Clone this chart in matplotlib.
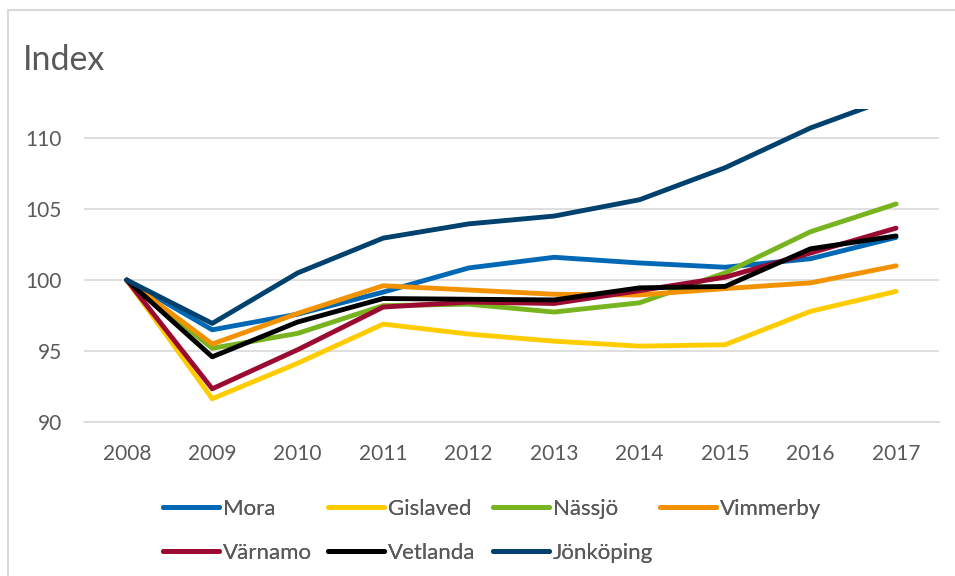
import matplotlib.pyplot as plt
from matplotlib.patches import Rectangle

plt.rcParams['font.family'] = ['Lato', 'DejaVu Sans']

years = ['2008', '2009', '2010', '2011', '2012', '2013', '2014', '2015', '2016', '2017']

mora = [100, 96.5, 97.6, 99.15, 100.85, 101.6, 101.2, 100.9, 101.5, 103.0]
gislaved = [100, 91.65, 94.15, 96.9, 96.2, 95.7, 95.35, 95.45, 97.8, 99.2]
nassjo = [100, 95.2, 96.25, 98.2, 98.3, 97.75, 98.4, 100.5, 103.4, 105.35]
vimmerby = [100, 95.5, 97.65, 99.6, 99.3, 99.0, 98.95, 99.4, 99.8, 101.0]
varnamo = [100, 92.35, 95.1, 98.1, 98.45, 98.35, 99.25, 100.2, 101.9, 103.65]
vetlanda = [100, 94.6, 97.05, 98.7, 98.65, 98.6, 99.45, 99.55, 102.2, 103.1]
jonkoping = [100, 96.95, 100.5, 102.95, 103.95, 104.5, 105.65, 107.9, 110.7, 112.9]

names = ['Mora', 'Gislaved', 'Nässjö', 'Vimmerby', 'Värnamo', 'Vetlanda', 'Jönköping']
series = [mora, gislaved, nassjo, vimmerby, varnamo, vetlanda, jonkoping]
colors = ['#0068B4', '#FFCC00', '#78B41F', '#F39200', '#9B0A31', '#000000', '#00416E']

yticks = [90, 95, 100, 105, 110]
text_col = '#595959'
grid_col = '#D9D9D9'

fig = plt.figure(figsize=(9.55, 5.76), dpi=100)
ax = fig.add_axes([0.088, 0.267, 0.895, 0.543])

x = list(range(len(years)))
handles = []
for name, vals, col in zip(names, series, colors):
    h, = ax.plot(x, vals, color=col, linewidth=3.5, label=name,
                 solid_capstyle='round', solid_joinstyle='round')
    handles.append(h)

ax.set_xlim(-0.5, len(years) - 0.5)
ax.set_ylim(90, 112)
ax.set_xticks(x)
ax.set_xticklabels(years)
ax.set_yticks(yticks)
ax.grid(axis='y', color=grid_col, linewidth=1.2)
ax.set_axisbelow(True)
for s in ['top', 'right', 'left']:
    ax.spines[s].set_visible(False)
ax.spines['bottom'].set_color(grid_col)
ax.spines['bottom'].set_linewidth(1.2)
ax.tick_params(axis='both', length=0, labelsize=15, labelcolor=text_col)
ax.tick_params(axis='x', pad=16)
ax.tick_params(axis='y', pad=16)

fig.text(23 / 955, 1 - 60 / 576, 'Index', fontsize=24.5, color=text_col,
         va='center', ha='left')

# Excel-like legend: 4 equal-width columns, filled row by row
ncols = 4
col_x = [163, 328, 493, 660]
for c in range(ncols):
    idx = list(range(c, len(names), ncols))
    leg = fig.legend([handles[i] for i in idx], [names[i] for i in idx],
                     loc='upper left', bbox_to_anchor=(col_x[c] / 955, 1 - 499 / 576),
                     frameon=False, fontsize=16, handlelength=2.5, handletextpad=0.18,
                     labelspacing=1.08, borderpad=0, borderaxespad=0)
    for t in leg.get_texts():
        t.set_color(text_col)
    fig.add_artist(leg)

fig.patches.append(Rectangle((8 / 955, -0.05), 1.1, 1 - 10 / 576 + 0.05,
                             transform=fig.transFigure, fill=False,
                             edgecolor=grid_col, linewidth=1.5))

fig.savefig('out.png', dpi=100)
